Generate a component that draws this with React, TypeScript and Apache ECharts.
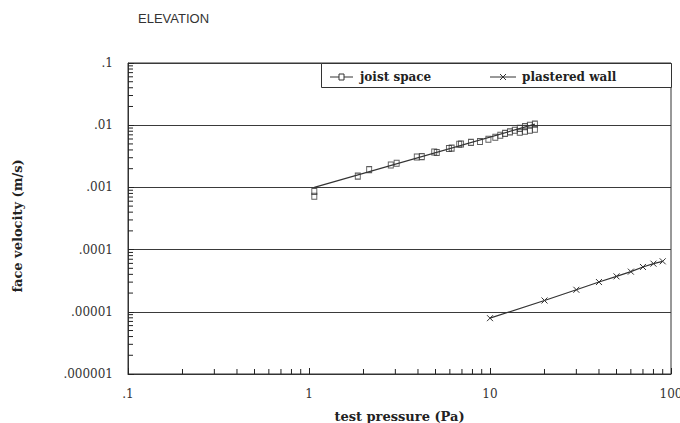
import React, { useEffect, useRef } from "react";
import * as echarts from "echarts";

// ---- data ----
const xTickLabels = [".1", "1", "10", "100"];
const yTickLabels = [".000001", ".00001", ".0001", ".001", ".01", ".1"];

const joistX = [1.07, 1.07, 1.86, 2.15, 2.83, 3.05, 3.94, 4.2, 4.92, 5.08, 5.93, 6.14, 6.76, 6.92, 7.85, 8.8, 9.8, 10.7, 11.4, 12.1, 12.9, 13.7, 14.6, 15.6, 16.6, 17.7, 14.6, 15.6, 16.6, 17.7];
const joistY = [0.00086, 0.00072, 0.00152, 0.00193, 0.00229, 0.00244, 0.00308, 0.00312, 0.00371, 0.00365, 0.00421, 0.00428, 0.00494, 0.005, 0.0053, 0.00546, 0.00594, 0.0064, 0.0069, 0.0074, 0.0078, 0.0083, 0.0089, 0.0095, 0.01, 0.0104, 0.0077, 0.008, 0.0083, 0.0086];
const joistFitX = [1.07, 17.7];
const joistFitY = [0.001, 0.0104];

const plasterX = [10, 20, 30, 40, 50, 60, 70, 80, 90];
const plasterY = [7.9e-6, 1.52e-5, 2.26e-5, 3.01e-5, 3.71e-5, 4.42e-5, 5.26e-5, 5.94e-5, 6.48e-5];

const X_MIN = 0.1, X_MAX = 100;
const Y_MIN = 1e-6, Y_MAX = 0.1;

function logMinorTicks(minExp: number, maxExp: number): number[] {
  const out: number[] = [];
  for (let e = minExp; e < maxExp; e++) {
    for (let k = 2; k <= 9; k++) out.push(k * Math.pow(10, e));
  }
  return out;
}
const xMinor = logMinorTicks(-1, 2);
const yMinor = logMinorTicks(-6, -1);

const INK = "#333";
const SERIF = "'DejaVu Serif', serif";

export default function App() {
  const ref = useRef<HTMLDivElement>(null);
  useEffect(() => {
    const chart = echarts.init(ref.current!, null, { renderer: "svg" });
    const zip = (a: number[], b: number[]) => a.map((v, i) => [v, b[i]]);
    const option: any = {
      animation: false,
      backgroundColor: "#fff",
      title: {
        text: "ELEVATION",
        left: 138,
        top: 12,
        padding: 0,
        textStyle: { fontFamily: "'Liberation Sans', sans-serif", fontSize: 13, fontWeight: "normal", color: "#333" },
      },
      grid: {
        left: 128, right: 9, top: 63, bottom: 49,
        show: true, borderColor: INK, borderWidth: 1,
        containLabel: false, outerBoundsMode: "none",
      },
      xAxis: {
        type: "log", min: X_MIN, max: X_MAX, logBase: 10, splitNumber: 3,
        position: "bottom",
        name: "test pressure (Pa)", nameLocation: "middle", nameGap: 36,
        nameTextStyle: { fontFamily: SERIF, fontWeight: "bold", fontSize: 13, color: "#222" },
        axisLine: { show: true, lineStyle: { color: INK, width: 1 } },
        axisTick: { show: true, inside: true, length: 6, lineStyle: { color: "#222" } },
        axisLabel: {
          margin: 14, color: "#333", fontFamily: SERIF, fontSize: 12,
          formatter: (v: number) => xTickLabels[Math.round(Math.log10(v)) + 1] ?? "",
        },
        splitLine: { show: false },
      },
      yAxis: {
        type: "log", min: Y_MIN, max: Y_MAX, logBase: 10, splitNumber: 5,
        position: "left",
        axisLine: { show: true, lineStyle: { color: INK, width: 1 } },
        axisTick: { show: true, inside: true, length: 6, lineStyle: { color: "#222" } },
        axisLabel: {
          margin: 15, color: "#333", fontFamily: SERIF, fontSize: 12,
          formatter: (v: number) => yTickLabels[Math.round(Math.log10(v)) + 6] ?? "",
        },
        splitLine: { show: true, lineStyle: { color: "#3a3a3a", width: 1.2 } },
      },
      graphic: [
        { type: "text", x: 17, y: 226, rotation: Math.PI / 2, style: { text: "face velocity (m/s)", fontFamily: SERIF, fontWeight: "bold", fontSize: 13, fill: "#222", align: "center", verticalAlign: "middle" } },
        { type: "rect", left: 321, top: 63, shape: { width: 350, height: 24 }, style: { fill: "#fff", stroke: INK, lineWidth: 1 }, z: 100 },
        { type: "line", shape: { x1: 330, y1: 77, x2: 353, y2: 77 }, style: { stroke: INK, lineWidth: 1 }, z: 101 },
        { type: "rect", shape: { x: 339, y: 74, width: 5, height: 6 }, style: { fill: "#fff", stroke: INK, lineWidth: 1 }, z: 102 },
        { type: "text", x: 360, y: 77, style: { text: "joist space", fontFamily: SERIF, fontWeight: "bold", fontSize: 12, fill: "#222", verticalAlign: "middle" }, z: 101 },
        { type: "line", shape: { x1: 490, y1: 77, x2: 516, y2: 77 }, style: { stroke: INK, lineWidth: 1 }, z: 101 },
        { type: "line", shape: { x1: 500, y1: 74, x2: 506, y2: 80 }, style: { stroke: INK, lineWidth: 1 }, z: 101 },
        { type: "line", shape: { x1: 506, y1: 74, x2: 500, y2: 80 }, style: { stroke: INK, lineWidth: 1 }, z: 101 },
        { type: "text", x: 522, y: 77, style: { text: "plastered wall", fontFamily: SERIF, fontWeight: "bold", fontSize: 12, fill: "#222", verticalAlign: "middle" }, z: 101 },
      ],
      series: [
        {
          type: "custom", name: "xMinorTicks", silent: true, clip: false,
          data: xMinor.map((v) => [v, Y_MIN]),
          encode: { x: 0, y: 1 },
          renderItem: (_p: any, api: any) => {
            const pt = api.coord([api.value(0), api.value(1)]);
            return { type: "line", shape: { x1: pt[0], y1: pt[1], x2: pt[0], y2: pt[1] - 5 }, style: { stroke: "#222", lineWidth: 1 } };
          },
        },
        {
          type: "custom", name: "yMinorTicks", silent: true, clip: false,
          data: yMinor.map((v) => [X_MIN, v]),
          encode: { x: 0, y: 1 },
          renderItem: (_p: any, api: any) => {
            const pt = api.coord([api.value(0), api.value(1)]);
            return { type: "line", shape: { x1: pt[0], y1: pt[1], x2: pt[0] + 5, y2: pt[1] }, style: { stroke: "#222", lineWidth: 1 } };
          },
        },
        {
          type: "line", name: "joist space fit", data: zip(joistFitX, joistFitY),
          showSymbol: false, symbol: "none",
          lineStyle: { color: INK, width: 1.2 },
        },
        {
          type: "scatter", name: "joist space", data: zip(joistX, joistY),
          symbol: "rect", symbolSize: [5, 6],
          itemStyle: { color: "rgba(255,255,255,0)", borderColor: INK, borderWidth: 1 },
        },
        {
          type: "line", name: "plastered wall", data: zip(plasterX, plasterY),
          symbol: "path://M0,0L10,10M10,0L0,10", symbolSize: 6, showSymbol: true,
          lineStyle: { color: INK, width: 1.2 },
          itemStyle: { color: "none", borderColor: INK, borderWidth: 1 },
        },
      ],
    };
    chart.setOption(option);
    return () => chart.dispose();
  }, []);
  return <div ref={ref} style={{ position: "fixed", left: 0, top: 0, width: 680, height: 423 }} />;
}
